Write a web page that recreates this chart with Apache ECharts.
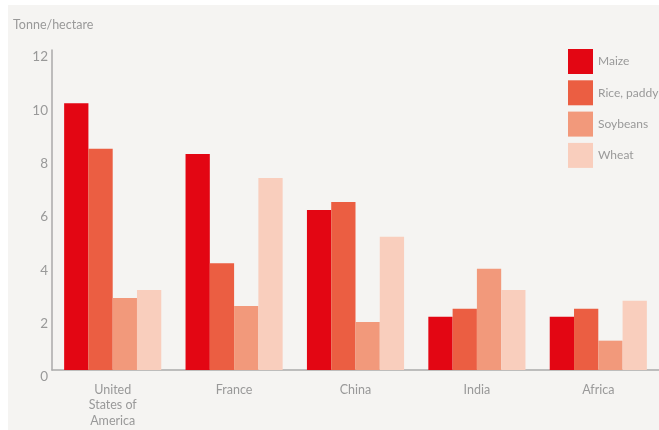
<!DOCTYPE html>
<html><head><meta charset="utf-8">
<script src="https://cdn.jsdelivr.net/npm/echarts@6/dist/echarts.min.js"></script>
<style>html,body{margin:0;padding:0;background:#fff}#c{width:659px;height:430px}</style>
</head><body><div id="c"></div>
<script>
const categories = ['United\nStates of\nAmerica', 'France', 'China', 'India', 'Africa'];
const maize = [10.0, 8.1, 6.0, 2.0, 2.0];
const rice = [8.3, 4.0, 6.3, 2.3, 2.3];
const soybeans = [2.7, 2.4, 1.8, 3.8, 1.1];
const wheat = [3.0, 7.2, 5.0, 3.0, 2.6];
const yTicks = [0, 2, 4, 6, 8, 10, 12];

const txt = '#999999';
const font = 'Lato';
const chart = echarts.init(document.getElementById('c'));
function s(name, data, color) {
  return { name, type: 'bar', data, itemStyle: { color }, barGap: '0%', barCategoryGap: '20%', emphasis: { disabled: true } };
}
chart.setOption({
  animation: false,
  graphic: [{ type: 'rect', shape: { x: 8, y: 5, width: 651, height: 425 }, style: { fill: '#f5f4f2' }, z: -10, silent: true }],
  title: { text: 'Tonne/hectare', left: 13, top: 18, padding: 0, textStyle: { fontFamily: font, fontSize: 12.5, fontWeight: 'normal', color: txt } },
  legend: {
    orient: 'vertical', left: 568, top: 49, padding: 0, itemWidth: 25, itemHeight: 25, itemGap: 6.3,
    icon: 'rect', textStyle: { fontFamily: font, fontSize: 12, color: txt },
    data: ['Maize', 'Rice, paddy', 'Soybeans', 'Wheat']
  },
  grid: { left: 52, right: 0, top: 50, bottom: 60, containLabel: false },
  xAxis: {
    type: 'category', data: categories,
    axisLine: { lineStyle: { color: '#aaaaaa', width: 1.5 } },
    axisTick: { inside: true, length: 8, lineStyle: { color: '#aaaaaa', width: 1.5 } },
    axisLabel: { fontFamily: font, fontSize: 12.5, color: txt, lineHeight: 15.5, margin: 12 }
  },
  yAxis: {
    type: 'value', min: yTicks[0], max: yTicks[yTicks.length - 1], interval: 2,
    axisLine: { show: true, lineStyle: { color: '#aaaaaa', width: 1.5 } },
    axisTick: { show: false }, splitLine: { show: false },
    axisLabel: { fontFamily: font, fontSize: 13.5, color: txt, margin: 4, verticalAlign: 'top' }
  },
  series: [
    s('Maize', maize, '#e30613'),
    s('Rice, paddy', rice, '#eb5e42'),
    s('Soybeans', soybeans, '#f2997b'),
    s('Wheat', wheat, '#f9cebd')
  ]
});
</script></body></html>
